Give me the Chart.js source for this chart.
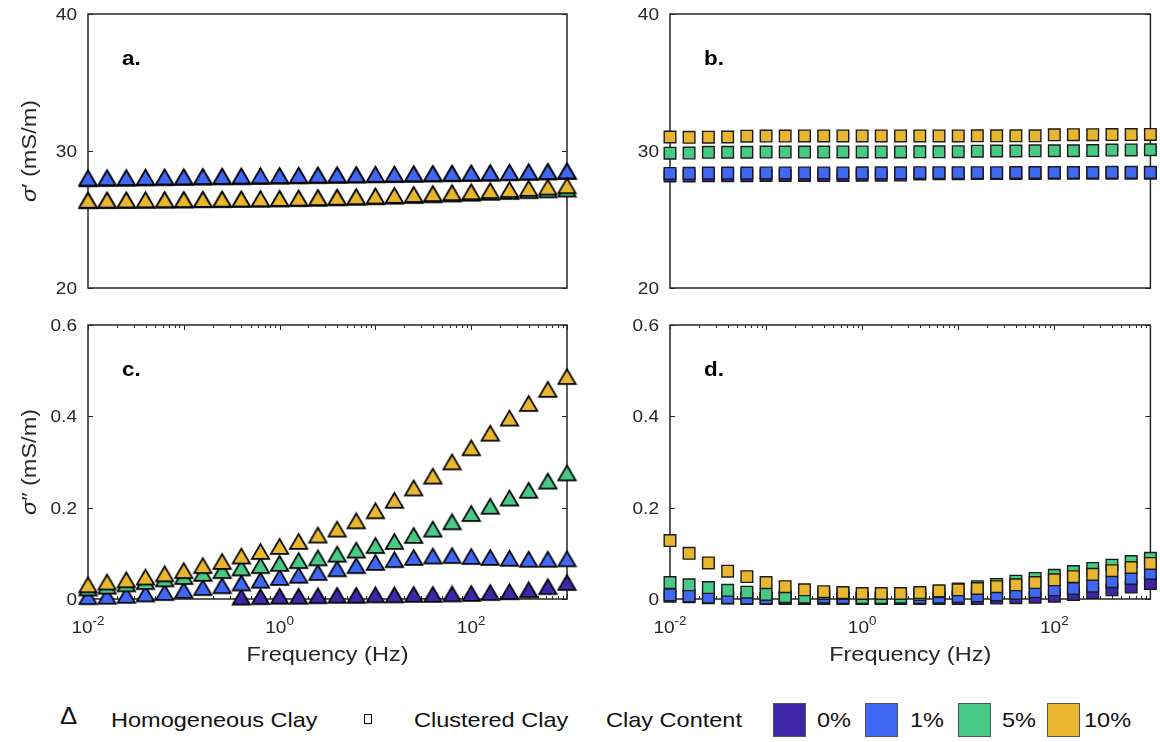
<!DOCTYPE html>
<html lang="en">
<head>
<meta charset="UTF-8">
<title>Clay content – sigma' and sigma''</title>
<script src="https://cdn.jsdelivr.net/npm/chart.js"></script>
<style>
  body { margin: 0; background: #fff; }
  #wrap { position: relative; width: 1160px; height: 742px; overflow: hidden; font-family: "Liberation Sans", Arial, sans-serif; }
  canvas { position: absolute; }
  .lg { position: absolute; top: 709px; font-size: 21px; line-height: 21px; color: #111; white-space: nowrap;
        transform: scaleX(1.12); transform-origin: left center; }
  .sw { position: absolute; top: 703px; width: 33px; height: 34px; border: 1px solid #555; box-sizing: border-box; }
  #sq { position: absolute; left: 364px; top: 714px; width: 8px; height: 10px; border: 1.5px solid #111; box-sizing: border-box; }
</style>
</head>
<body>
<div id="wrap">
  <canvas id="pa" width="590" height="305" style="left:0;top:0"></canvas>
  <canvas id="pb" width="570" height="305" style="left:590px;top:0"></canvas>
  <canvas id="pc" width="590" height="375" style="left:0;top:305px"></canvas>
  <canvas id="pd" width="570" height="375" style="left:590px;top:305px"></canvas>

  <span class="lg" style="left:60px;top:706px;font-size:23px">Δ</span>
  <span class="lg" style="left:111px">Homogeneous Clay</span>
  <div id="sq"></div>
  <span class="lg" style="left:414px">Clustered Clay</span>
  <span class="lg" style="left:606px">Clay Content</span>
  <div class="sw" style="left:773px;background:#3e26a8"></div>
  <span class="lg" style="left:817px">0%</span>
  <div class="sw" style="left:865px;background:#4168f5"></div>
  <span class="lg" style="left:910px">1%</span>
  <div class="sw" style="left:958px;background:#49c986"></div>
  <span class="lg" style="left:1002px">5%</span>
  <div class="sw" style="left:1047px;background:#e8b72f"></div>
  <span class="lg" style="left:1084px">10%</span>
</div>

<script>
// frequencies (Hz), 5 per decade
const freq = [0.01, 0.0158, 0.0251, 0.0398, 0.0631, 0.1, 0.158, 0.251, 0.398, 0.631,
              1, 1.58, 2.51, 3.98, 6.31, 10, 15.8, 25.1, 39.8, 63.1,
              100, 158, 251, 398, 631, 1000];

const clayLabels = ['0%', '1%', '5%', '10%'];
const clayColors = ['#3e26a8', '#4168f5', '#49c986', '#e8b72f'];

// a. sigma' homogeneous (mS/m)
const aHom0  = [27.97, 27.99, 28.01, 28.03, 28.05, 28.07, 28.09, 28.11, 28.12, 28.14, 28.16, 28.18, 28.2, 28.22, 28.24, 28.26, 28.28, 28.3, 28.32, 28.34, 28.36, 28.38, 28.41, 28.44, 28.47, 28.5];
const aHom1  = [28.02, 28.04, 28.05, 28.08, 28.1, 28.11, 28.13, 28.15, 28.17, 28.18, 28.2, 28.22, 28.24, 28.26, 28.27, 28.29, 28.31, 28.33, 28.35, 28.37, 28.39, 28.41, 28.44, 28.47, 28.5, 28.54];
const aHom5  = [26.37, 26.38, 26.39, 26.4, 26.41, 26.42, 26.44, 26.45, 26.47, 26.48, 26.5, 26.52, 26.55, 26.58, 26.62, 26.66, 26.7, 26.75, 26.8, 26.86, 26.92, 26.98, 27.04, 27.1, 27.16, 27.22];
const aHom10 = [26.4, 26.41, 26.42, 26.43, 26.44, 26.45, 26.46, 26.48, 26.49, 26.51, 26.53, 26.56, 26.59, 26.62, 26.66, 26.71, 26.76, 26.82, 26.88, 26.95, 27.02, 27.1, 27.18, 27.27, 27.36, 27.46];

// b. sigma' clustered (mS/m)
const bClu0  = [28.18, 28.18, 28.2, 28.2, 28.2, 28.21, 28.21, 28.22, 28.22, 28.22, 28.23, 28.23, 28.24, 28.33, 28.34, 28.34, 28.35, 28.35, 28.36, 28.36, 28.37, 28.37, 28.37, 28.38, 28.38, 28.38];
const bClu1  = [28.36, 28.37, 28.39, 28.39, 28.39, 28.4, 28.4, 28.4, 28.4, 28.4, 28.41, 28.41, 28.41, 28.42, 28.42, 28.42, 28.42, 28.42, 28.43, 28.43, 28.43, 28.43, 28.43, 28.44, 28.44, 28.44];
const bClu5  = [29.84, 29.85, 29.9, 29.91, 29.91, 29.92, 29.92, 29.92, 29.92, 29.93, 29.93, 29.93, 29.93, 29.94, 29.94, 29.95, 29.99, 30.0, 30.0, 30.01, 30.02, 30.02, 30.03, 30.07, 30.08, 30.09];
const bClu10 = [31.02, 31.0, 31.01, 31.02, 31.08, 31.09, 31.09, 31.1, 31.1, 31.1, 31.1, 31.1, 31.1, 31.1, 31.1, 31.1, 31.11, 31.11, 31.11, 31.11, 31.18, 31.19, 31.19, 31.2, 31.2, 31.21];

// c. sigma'' homogeneous (mS/m)
const cHom0  = [null, null, null, null, null, null, null, null, 0.004, 0.005, 0.006, 0.006, 0.007, 0.008, 0.008, 0.009, 0.009, 0.01, 0.01, 0.011, 0.012, 0.014, 0.016, 0.02, 0.027, 0.036];
const cHom1  = [0.005, 0.006, 0.008, 0.011, 0.014, 0.019, 0.025, 0.029, 0.035, 0.041, 0.047, 0.052, 0.058, 0.066, 0.073, 0.08, 0.086, 0.091, 0.094, 0.095, 0.093, 0.091, 0.089, 0.087, 0.087, 0.088];
const cHom5  = [0.024, 0.028, 0.033, 0.038, 0.044, 0.049, 0.056, 0.062, 0.068, 0.073, 0.078, 0.084, 0.09, 0.098, 0.107, 0.117, 0.126, 0.139, 0.153, 0.169, 0.187, 0.203, 0.221, 0.238, 0.258, 0.276];
const cHom10 = [0.031, 0.037, 0.042, 0.048, 0.055, 0.062, 0.073, 0.082, 0.094, 0.104, 0.115, 0.126, 0.14, 0.153, 0.171, 0.193, 0.216, 0.243, 0.269, 0.3, 0.331, 0.363, 0.396, 0.428, 0.459, 0.487];

// d. sigma'' clustered (mS/m)
const dClu0  = [0.006, 0.005, 0.003, 0.002, 0.001, 0.001, 0.001, 0.001, 0.001, 0.001, 0.001, 0.001, 0.001, 0.001, 0.001, 0.001, 0.001, 0.002, 0.003, 0.004, 0.006, 0.01, 0.014, 0.02, 0.026, 0.034];
const dClu1  = [0.009, 0.007, 0.004, 0.003, 0.002, 0.002, 0.002, 0.003, 0.004, 0.003, 0.002, 0.002, 0.002, 0.003, 0.004, 0.005, 0.007, 0.009, 0.012, 0.016, 0.02, 0.023, 0.028, 0.038, 0.045, 0.056];
const dClu5  = [0.036, 0.031, 0.025, 0.019, 0.015, 0.01, 0.005, 0.004, 0.012, 0.012, 0.003, 0.003, 0.004, 0.01, 0.016, 0.022, 0.027, 0.032, 0.039, 0.045, 0.052, 0.06, 0.067, 0.074, 0.082, 0.089];
const dClu10 = [0.128, 0.1, 0.079, 0.061, 0.049, 0.036, 0.027, 0.02, 0.016, 0.014, 0.012, 0.012, 0.012, 0.014, 0.018, 0.02, 0.023, 0.027, 0.031, 0.036, 0.042, 0.049, 0.054, 0.062, 0.069, 0.078];

const sigmaTicks = [20, 30, 40];
const sigma2Ticks = [0, 0.2, 0.4, 0.6];
const sigma2TickText = ['0', '0.2', '0.4', '0.6'];
const xLabelExps = [-2, 0, 2];

const FONT = '"Liberation Sans", Arial, "DejaVu Sans", sans-serif';
const SX = 1.12;   // the original figure text is a bit wide
const INK = '#262626';

// triangle marker, centred on its bounding box like matlab's '^'
function triangle(color) {
  const c = document.createElement('canvas');
  c.width = 21; c.height = 19;
  const g = c.getContext('2d');
  g.beginPath();
  g.moveTo(10.5, 2); g.lineTo(19.2, 16.8); g.lineTo(1.8, 16.8); g.closePath();
  g.fillStyle = color; g.fill();
  g.lineWidth = 1.7; g.strokeStyle = '#000'; g.lineJoin = 'miter'; g.stroke();
  return c;
}

function txt(ctx, s, x, y, font, align, base) {
  ctx.save();
  ctx.font = font;
  ctx.translate(x, y);
  ctx.scale(SX, 1);
  ctx.textAlign = align || 'left';
  ctx.textBaseline = base || 'alphabetic';
  ctx.fillText(s, 0, 0);
  ctx.restore();
}

const frame = {
  id: 'frame',
  beforeDatasetsDraw(chart, args, o) {
    const ctx = chart.ctx, a = chart.chartArea;
    const xs = chart.scales.x, ys = chart.scales.y;
    ctx.save();
    ctx.strokeStyle = INK;
    ctx.fillStyle = INK;

    // box
    ctx.lineWidth = 1.5;
    ctx.strokeRect(a.left, a.top, a.right - a.left, a.bottom - a.top);

    // y ticks, inward on both sides
    ctx.lineWidth = 1.2;
    o.yTicks.forEach((v, i) => {
      const py = Math.round(ys.getPixelForValue(v)) + 0.5;
      ctx.beginPath();
      ctx.moveTo(a.left, py); ctx.lineTo(a.left + 5, py);
      ctx.moveTo(a.right - 5, py); ctx.lineTo(a.right, py);
      ctx.stroke();
      txt(ctx, o.yText[i], a.left - 11, py + 1, '17px ' + FONT, 'right', 'middle');
    });

    // log ticks on top and bottom
    if (o.logTicks) {
      ctx.lineWidth = 1;
      for (let e = -2; e <= 3; e++) {
        for (let m = 1; m <= 9; m++) {
          const f = m * Math.pow(10, e);
          if (f > 1000.01) break;
          const px = Math.round(xs.getPixelForValue(f)) + 0.5;
          const len = m === 1 ? 5 : 3;
          ctx.beginPath();
          ctx.moveTo(px, a.bottom); ctx.lineTo(px, a.bottom - len);
          ctx.moveTo(px, a.top); ctx.lineTo(px, a.top + len);
          ctx.stroke();
        }
      }
      // 10^n labels
      xLabelExps.forEach(e => {
        const px = xs.getPixelForValue(Math.pow(10, e));
        const sup = e < 0 ? '-' + (-e) : String(e);
        ctx.font = '17px ' + FONT;
        const w1 = ctx.measureText('10').width * SX;
        ctx.font = '12px ' + FONT;
        const w2 = ctx.measureText(sup).width * SX;
        const x0 = px - (w1 + w2) / 2;
        txt(ctx, '10', x0, a.bottom + 34, '17px ' + FONT);
        txt(ctx, sup, x0 + w1, a.bottom + 26, '12px ' + FONT);
      });
      txt(ctx, 'Frequency (Hz)', (a.left + a.right) / 2, a.bottom + 62, '21px ' + FONT, 'center');
    }

    // y axis title, rotated
    if (o.yTitle) {
      ctx.save();
      ctx.translate(a.left - 58, (a.top + a.bottom) / 2);
      ctx.rotate(-Math.PI / 2);
      ctx.scale(SX, 1);
      ctx.textBaseline = 'middle';
      ctx.font = 'italic 21px ' + FONT;
      const w1 = ctx.measureText('σ').width;
      ctx.font = '21px ' + FONT;
      const w2 = ctx.measureText(o.yTitle).width;
      const x0 = -(w1 + w2) / 2;
      ctx.font = 'italic 21px ' + FONT;
      ctx.fillText('σ', x0, 0);
      ctx.font = '21px ' + FONT;
      ctx.fillText(o.yTitle, x0 + w1, 0);
      ctx.restore();
    }

    // panel letter
    ctx.fillStyle = '#000';
    txt(ctx, o.letter, a.left + 34, a.top + 51, 'bold 20px ' + FONT);
    ctx.restore();
  }
};

function panel(id, series, marker, yMin, yMax, pad, extra) {
  const datasets = series.map((vals, i) => ({
    label: clayLabels[i],
    data: freq.map((f, k) => ({ x: f, y: vals[k] })).filter(p => p.y !== null),
    order: 3 - i,
    pointStyle: marker === 'tri' ? triangle(clayColors[i]) : 'rect',
    pointRadius: marker === 'tri' ? 9 : 8.2,
    backgroundColor: clayColors[i],
    borderColor: '#1b1b1b',
    borderWidth: 1.4,
    showLine: false,
    clip: false
  }));
  new Chart(document.getElementById(id), {
    type: 'scatter',
    data: { datasets },
    options: {
      responsive: false,
      animation: false,
      events: [],
      layout: { padding: pad },
      plugins: { legend: { display: false }, tooltip: { enabled: false }, frame: extra },
      scales: {
        x: { type: 'logarithmic', min: 0.01, max: 1000, display: false },
        y: { type: 'linear', min: yMin, max: yMax, display: false }
      }
    },
    plugins: [frame]
  });
}

panel('pa', [aHom0, aHom1, aHom5, aHom10], 'tri', 20, 40,
  { left: 88, right: 23, top: 14, bottom: 17 },
  { yTicks: sigmaTicks, yText: sigmaTicks.map(String), yTitle: '′ (mS/m)', letter: 'a.', logTicks: false });
panel('pb', [bClu0, bClu1, bClu5, bClu10], 'sq', 20, 40,
  { left: 80, right: 9, top: 14, bottom: 17 },
  { yTicks: sigmaTicks, yText: sigmaTicks.map(String), yTitle: null, letter: 'b.', logTicks: false });
panel('pc', [cHom0, cHom1, cHom5, cHom10], 'tri', 0, 0.6,
  { left: 88, right: 23, top: 20, bottom: 81 },
  { yTicks: sigma2Ticks, yText: sigma2TickText, yTitle: '″ (mS/m)', letter: 'c.', logTicks: true });
panel('pd', [dClu0, dClu1, dClu5, dClu10], 'sq', 0, 0.6,
  { left: 80, right: 9, top: 20, bottom: 81 },
  { yTicks: sigma2Ticks, yText: sigma2TickText, yTitle: null, letter: 'd.', logTicks: true });
</script>
</body>
</html>
